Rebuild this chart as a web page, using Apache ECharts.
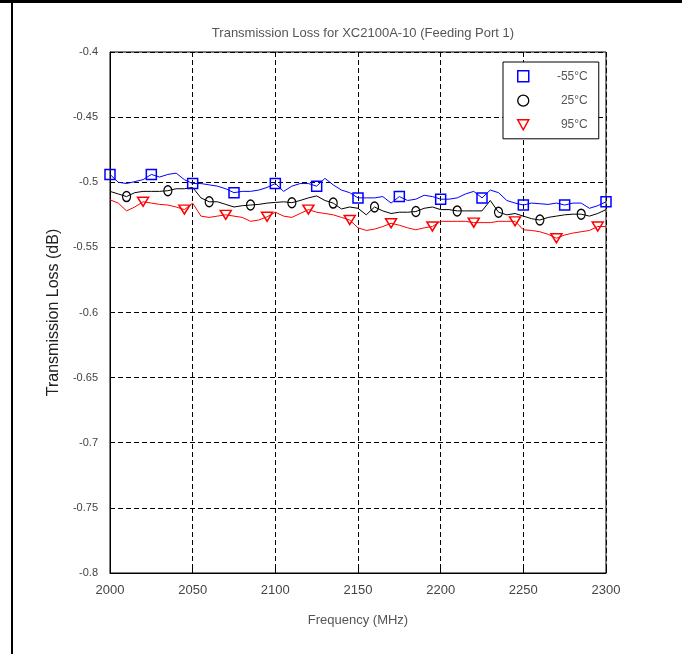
<!DOCTYPE html>
<html>
<head>
<meta charset="utf-8">
<script src="https://cdn.jsdelivr.net/npm/echarts@6/dist/echarts.min.js"></script>
<style>
html,body{margin:0;padding:0;background:#fff;}
#chart{width:682px;height:654px;}
</style>
</head>
<body>
<div id="chart"></div>
<script>
// Frequency samples (MHz), 5 MHz steps
const frequencies = [
 2000,2005,2010,2015,2020,2025,2030,2035,2040,2045,
 2050,2055,2060,2065,2070,2075,2080,2085,2090,2095,
 2100,2105,2110,2115,2120,2125,2130,2135,2140,2145,
 2150,2155,2160,2165,2170,2175,2180,2185,2190,2195,
 2200,2205,2210,2215,2220,2225,2230,2235,2240,2245,
 2250,2255,2260,2265,2270,2275,2280,2285,2290,2295,2300
];
const lossMinus55 = [
 -0.494,-0.500,-0.501,-0.4995,-0.498,-0.494,-0.496,-0.494,-0.493,-0.498,
 -0.501,-0.501,-0.502,-0.503,-0.505,-0.508,-0.507,-0.507,-0.506,-0.504,
 -0.501,-0.507,-0.503,-0.501,-0.501,-0.503,-0.497,-0.502,-0.506,-0.508,
 -0.512,-0.512,-0.512,-0.511,-0.516,-0.511,-0.514,-0.513,-0.510,-0.511,
 -0.513,-0.513,-0.512,-0.509,-0.507,-0.512,-0.506,-0.508,-0.514,-0.516,
 -0.5175,-0.516,-0.5165,-0.517,-0.516,-0.5175,-0.516,-0.516,-0.520,-0.518,-0.515
];
const loss25 = [
 -0.507,-0.509,-0.511,-0.508,-0.507,-0.507,-0.507,-0.5065,-0.505,-0.505,
 -0.504,-0.512,-0.515,-0.515,-0.517,-0.519,-0.518,-0.5175,-0.517,-0.516,
 -0.5155,-0.515,-0.5157,-0.514,-0.512,-0.5105,-0.514,-0.516,-0.5205,-0.519,
 -0.520,-0.525,-0.519,-0.522,-0.524,-0.523,-0.523,-0.5225,-0.520,-0.519,
 -0.521,-0.521,-0.522,-0.522,-0.522,-0.522,-0.514,-0.523,-0.525,-0.524,
 -0.526,-0.528,-0.529,-0.527,-0.526,-0.525,-0.5245,-0.5245,-0.526,-0.524,-0.521
];
const loss95 = [
 -0.5135,-0.516,-0.522,-0.519,-0.515,-0.516,-0.517,-0.5175,-0.519,-0.521,
 -0.516,-0.526,-0.527,-0.526,-0.525,-0.526,-0.527,-0.530,-0.529,-0.5265,
 -0.523,-0.526,-0.527,-0.524,-0.521,-0.523,-0.524,-0.525,-0.527,-0.529,
 -0.535,-0.537,-0.536,-0.534,-0.5315,-0.533,-0.535,-0.5365,-0.535,-0.534,
 -0.530,-0.530,-0.530,-0.530,-0.531,-0.531,-0.531,-0.530,-0.530,-0.530,
 -0.5365,-0.537,-0.538,-0.540,-0.543,-0.5405,-0.539,-0.538,-0.537,-0.534,-0.534
];
const seriesNames = ['-55°C', '25°C', '95°C'];
const titleText = 'Transmission Loss for XC2100A-10 (Feeding Port 1)';
const xAxisTitle = 'Frequency (MHz)';
const yAxisTitle = 'Transmission Loss (dB)';

const downTri = 'path://M0,0 L10,0 L5,9 Z';
const FONT = 'Liberation Sans';

function pairs(ys){ return frequencies.map((f,i)=>[f, ys[i]]); }
function markerEvery(shape, offset){
  return function(val, params){ return (params.dataIndex % 5 === offset) ? shape : 'none'; };
}

const chart = echarts.init(document.getElementById('chart'), null, {renderer:'canvas'});
const option = {
  animation:false,
  backgroundColor:'#fff',
  textStyle:{fontFamily:FONT},
  title:{
    text:titleText, left:358, top:22, textAlign:'center',
    textStyle:{fontFamily:FONT, fontSize:13, fontWeight:'normal', color:'#555'}
  },
  grid:{left:110, right:76, top:52, bottom:81, show:true, borderColor:'#000', borderWidth:1, backgroundColor:'#fff'},
  legend:{
    orient:'vertical', left:503, top:62,
    padding:[8,11,8,14], itemGap:12, itemWidth:11, itemHeight:11,
    backgroundColor:'#fff', borderColor:'#000', borderWidth:1, borderRadius:0,
    formatter:function(n){ return '{t|' + n + '}'; },
    textStyle:{fontFamily:FONT, fontSize:12, color:'#555',
      rich:{t:{width:54, align:'right', fontFamily:FONT, fontSize:12, color:'#555', lineHeight:14}}},
    data:[
      {name:seriesNames[0], icon:'rect', itemStyle:{color:'rgba(0,0,0,0)', borderColor:'#0000ff', borderWidth:1.5}},
      {name:seriesNames[1], icon:'circle', itemStyle:{color:'rgba(0,0,0,0)', borderColor:'#000', borderWidth:1.3}},
      {name:seriesNames[2], icon:downTri, itemStyle:{color:'rgba(0,0,0,0)', borderColor:'#ff0000', borderWidth:1.5}}
    ]
  },
  xAxis:{
    type:'value', min:2000, max:2300, interval:50,
    name:xAxisTitle, nameLocation:'middle', nameGap:41,
    nameTextStyle:{fontFamily:FONT, fontSize:13, color:'#555'},
    axisLine:{show:true, onZero:false, lineStyle:{color:'#000', width:1}},
    axisTick:{show:true, inside:true, length:5, lineStyle:{color:'#000'}},
    axisLabel:{fontFamily:FONT, fontSize:13, color:'#444', margin:11, formatter:function(v){ return String(v); }},
    splitLine:{show:true, lineStyle:{color:'#000', width:1, type:[5,3]}}
  },
  yAxis:{
    type:'value', min:-0.8, max:-0.4, interval:0.05,
    name:yAxisTitle, nameLocation:'middle', nameGap:44, nameRotate:90,
    nameTextStyle:{fontFamily:FONT, fontSize:16, color:'#222'},
    axisLine:{show:true, onZero:false, lineStyle:{color:'#000', width:1}},
    axisTick:{show:true, inside:true, length:5, lineStyle:{color:'#000'}},
    axisLabel:{fontFamily:FONT, fontSize:11, color:'#444', margin:12},
    splitLine:{show:true, lineStyle:{color:'#000', width:1, type:[5,3]}}
  },
  series:[
    {
      name:seriesNames[0], type:'line', data:pairs(lossMinus55),
      symbol:markerEvery('rect',0), symbolSize:10, showAllSymbol:true,
      lineStyle:{color:'#0000ff', width:1},
      itemStyle:{color:'rgba(0,0,0,0)', borderColor:'#0000ff', borderWidth:1.5},
      emphasis:{disabled:true}, z:4
    },
    {
      name:seriesNames[1], type:'line', data:pairs(loss25),
      symbol:markerEvery('circle',2), symbolSize:[8,10], showAllSymbol:true,
      lineStyle:{color:'#000', width:1},
      itemStyle:{color:'rgba(0,0,0,0)', borderColor:'#000', borderWidth:1.3},
      emphasis:{disabled:true}, z:3
    },
    {
      name:seriesNames[2], type:'line', data:pairs(loss95),
      symbol:markerEvery(downTri,4), symbolSize:[11,9], showAllSymbol:true,
      lineStyle:{color:'#ff0000', width:1},
      itemStyle:{color:'rgba(0,0,0,0)', borderColor:'#ff0000', borderWidth:1.5},
      emphasis:{disabled:true}, z:2
    }
  ],
  graphic:[
    {type:'rect', shape:{x:0, y:0, width:682, height:3}, style:{fill:'#000'}, silent:true, z:100},
    {type:'rect', shape:{x:11, y:0, width:2, height:654}, style:{fill:'#000'}, silent:true, z:100}
  ]
};
chart.setOption(option);
</script>
</body>
</html>
